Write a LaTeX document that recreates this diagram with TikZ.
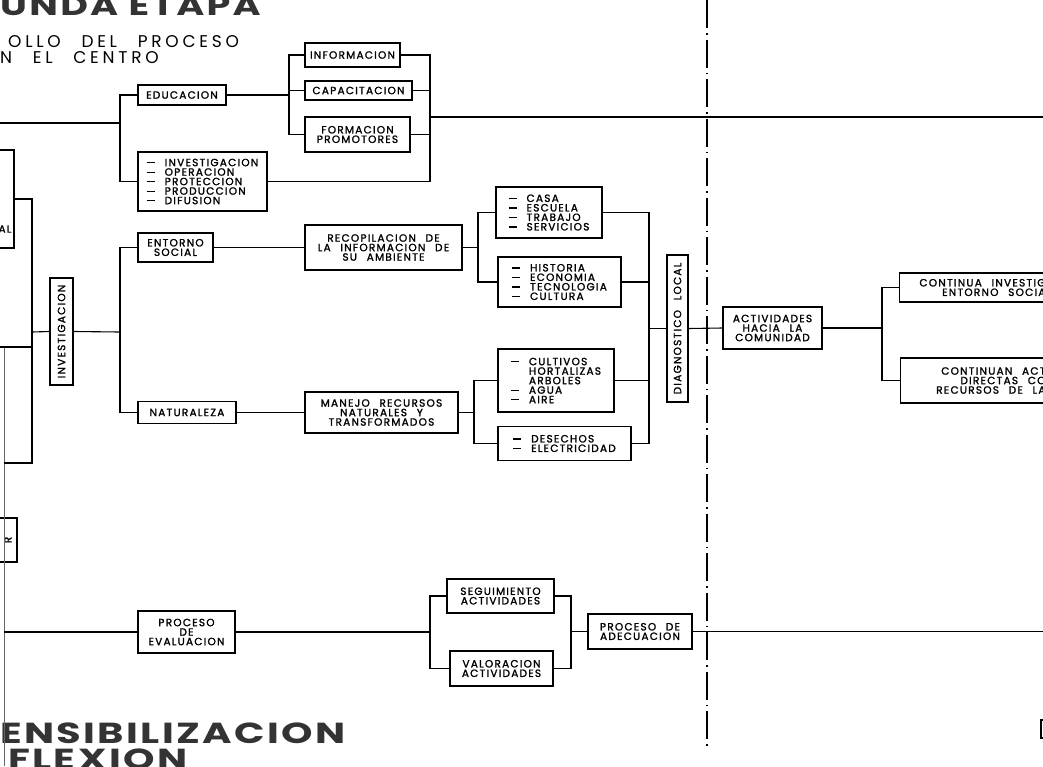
\documentclass[tikz,border=0pt]{standalone}
\usepackage{fontspec}
\usepackage{graphicx}
\setmainfont{Poppins}
\newfontfamily\cajafont{Poppins}[LetterSpace=12,WordSpace=2.4,FakeBold=1.6]
\newfontfamily\subfont{Poppins}[LetterSpace=22,WordSpace=2.5]
\newfontfamily\titfont{Poppins}[LetterSpace=6]
\usetikzlibrary{positioning}

\newcommand{\guion}{\makebox[18pt][l]{\rule[2.8pt]{8pt}{1.2pt}}}
\newcommand{\singuion}{\hspace*{18pt}}
\newcommand{\ancho}[1]{\scalebox{1.38}[1]{#1}}

\tikzset{
  caja/.style={draw, line width=1.1pt, inner sep=1pt, align=center,
               font=\cajafont\fontsize{10.5}{9.5}\selectfont},
  lista/.style={caja, align=left},
  conector/.style={line width=1.1pt},
  titulo/.style={inner sep=0pt, anchor=base west, text=black!80, text depth=0pt,
                 font=\titfont\bfseries\fontsize{29}{29}\selectfont},
  subtitulo/.style={inner sep=0pt, anchor=base west,
                    font=\subfont\fontsize{17}{17}\selectfont},
}

\begin{document}
\begin{tikzpicture}[x=1pt,y=-1pt]

\useasboundingbox (0,0) rectangle (1043,766);
\clip (0,0) rectangle (1043,766);

\node[titulo, font=\titfont\bfseries\fontsize{28}{28}\selectfont] (etapa) at (0,15) {\scalebox{1.36}[1]{UNDA ETAPA}};
\node[subtitulo] (sub1) at (8,47) {OLLO DEL PROCESO};
\node[subtitulo] (sub2) at (0,63) {N EL CENTRO};
\node[titulo] (sensib) at (0,743) {\ancho{ENSIBILIZACION}};
\node[titulo] (reflex) at (8,769) {\ancho{FLEXION}};

\node[caja, minimum width=60, minimum height=98] (cajaAL) at (-16,199) {};
\node[caja, draw=none, anchor=east] (textoAL) at (13,229) {AL};
\node[caja, minimum width=40, minimum height=44] (cajaR) at (-3,540) {};
\node[caja, draw=none, rotate=90] (textoR) at (8,540) {R};

\node[caja, rotate=90, minimum width=107, minimum height=23] (invest) at (61.5,331.5) {INVESTIGACION};
\node[caja, minimum width=88, minimum height=20] (educa) at (182,95) {EDUCACION};
\node[lista, minimum width=129, minimum height=59] (acciones) at (202.5,181.5)
  {\guion INVESTIGACION\\\guion OPERACION\\\guion PROTECCION\\\guion PRODUCCION\\\guion DIFUSION};
\node[caja, minimum width=95, minimum height=24] (info) at (352.5,55) {INFORMACION};
\node[caja, minimum width=107, minimum height=19] (capa) at (358.5,90.5) {CAPACITACION};
\node[caja, minimum width=105, minimum height=35] (forma) at (357.5,134.5) {FORMACION\\PROMOTORES};

\node[caja, minimum width=75, minimum height=29] (entorno) at (175.5,247.5) {ENTORNO\\SOCIAL};
\node[caja, minimum width=98, minimum height=22] (natur) at (187,412.5) {NATURALEZA};
\node[caja, minimum width=157, minimum height=45] (recop) at (383.5,247.5) {RECOPILACION DE\\LA INFORMACION DE\\SU AMBIENTE};
\node[caja, minimum width=153, minimum height=41] (manejo) at (381.5,412.5) {MANEJO RECURSOS\\NATURALES Y\\TRANSFORMADOS};

\node[lista, minimum width=106, minimum height=51] (casa) at (549,212.5)
  {\guion CASA\\\guion ESCUELA\\\guion TRABAJO\\\guion SERVICIOS};
\node[lista, minimum width=123, minimum height=50] (hist) at (559.5,282)
  {\guion HISTORIA\\\guion ECONOMIA\\\guion TECNOLOGIA\\\guion CULTURA};
\node[lista, minimum width=116, minimum height=63] (cult) at (556,380.5)
  {\guion CULTIVOS\\\singuion HORTALIZAS\\\singuion ARBOLES\\\guion AGUA\\\guion AIRE};
\node[lista, minimum width=133, minimum height=34] (deso) at (564.5,443.5)
  {\guion DESECHOS\\\guion ELECTRICIDAD};

\node[caja, rotate=90, minimum width=147, minimum height=21] (diag) at (677.5,328.5) {DIAGNOSTICO LOCAL};
\node[caja, minimum width=99, minimum height=42] (acti) at (772.5,328) {ACTIVIDADES\\HACIA LA\\COMUNIDAD};
\node[caja, anchor=west, minimum width=170, minimum height=29] (cont1) at (899,287.5) {};
\node[caja, draw=none, anchor=east, align=right] (textoC1) at (1047,287.5) {CONTINUA INVESTIG\\ENTORNO SOCIA};
\node[caja, anchor=west, minimum width=170, minimum height=45] (cont2) at (900,380.5) {};
\node[caja, draw=none, anchor=east, align=right] (textoC2) at (1047,380.5) {CONTINUAN ACT\\DIRECTAS CO\\RECURSOS DE LA};

\node[caja, minimum width=97, minimum height=42] (evalua) at (186.5,632) {PROCESO\\DE\\EVALUACION};
\node[caja, minimum width=107, minimum height=34] (segui) at (500.5,596) {SEGUIMIENTO\\ACTIVIDADES};
\node[caja, minimum width=103, minimum height=35] (valor) at (501.5,668.5) {VALORACION\\ACTIVIDADES};
\node[caja, minimum width=104, minimum height=35] (adecua) at (640,631.5) {PROCESO DE\\ADECUACION};

\coordinate (entradaA) at (0,123);
\coordinate (entradaB) at (0,347);
\coordinate (esquina) at (4,463);
\coordinate (lineaIni) at (4,347);
\coordinate (lineaFin) at (4,766);
\coordinate (llaveInv) at (32,332);
\coordinate (llaveInvD) at (120,332);
\coordinate (llaveEdu) at (120,123);
\coordinate (llaveInfo) at (289,95);
\coordinate (llaveB) at (430,117);
\coordinate (finB) at (1043,117);
\coordinate (llaveRec) at (478,247.5);
\coordinate (llaveMan) at (474,412.5);
\coordinate (llaveDiag) at (649,328.5);
\coordinate (llaveAct) at (882,328);
\coordinate (llaveEv) at (430,632);
\coordinate (llaveAde) at (571,631.5);
\coordinate (finAde) at (1043,631.5);
\coordinate (cortePie) at (707,748);
\coordinate (corteTope) at (707,0);

\draw[line width=1.2pt, dash pattern=on 28pt off 5pt on 1.5pt off 5pt] (corteTope) -- (cortePie);
\draw[line width=0.7pt, black!60] (lineaIni) -- (lineaFin);

\draw[conector] (cajaAL.east) -| (llaveInv);
\draw[conector] (esquina) -| (llaveInv);
\draw[conector] (entradaB) -- (entradaB -| llaveInv);
\draw[conector] (llaveInv) -- (invest.north);
\draw[conector] (invest.south) -- (llaveInvD);
\draw[conector] (entorno.west) -| (llaveInvD);
\draw[conector] (natur.west) -| (llaveInvD);

\draw[conector] (entradaA) -- (llaveEdu);
\draw[conector] (educa.west) -| (llaveEdu);
\draw[conector] (acciones.west) -| (llaveEdu);
\draw[conector] (educa.east) -- (llaveInfo);
\draw[conector] (info.west) -| (llaveInfo);
\draw[conector] (forma.west) -| (llaveInfo);
\draw[conector] (capa.west) -- (capa.west -| llaveInfo);
\draw[conector] (info.east) -| (llaveB);
\draw[conector] (acciones.east) -| (llaveB);
\draw[conector] (capa.east) -- (capa.east -| llaveB);
\draw[conector] (forma.east) -- (forma.east -| llaveB);
\draw[conector] (llaveB) -- (finB);

\draw[conector] (entorno.east) -- (recop.west);
\draw[conector] (natur.east) -- (manejo.west);
\draw[conector] (recop.east) -- (llaveRec);
\draw[conector] (casa.west) -| (llaveRec);
\draw[conector] (hist.west) -| (llaveRec);
\draw[conector] (manejo.east) -- (llaveMan);
\draw[conector] (cult.west) -| (llaveMan);
\draw[conector] (deso.west) -| (llaveMan);

\draw[conector] (casa.east) -| (llaveDiag);
\draw[conector] (deso.east) -| (llaveDiag);
\draw[conector] (hist.east) -- (hist.east -| llaveDiag);
\draw[conector] (cult.east) -- (cult.east -| llaveDiag);
\draw[conector] (llaveDiag) -- (diag.north);
\draw[conector] (diag.south) -- (acti.west);
\draw[conector] (acti.east) -- (llaveAct);
\draw[conector] (cont1.west) -| (llaveAct);
\draw[conector] (cont2.west) -| (llaveAct);

\draw[conector] (lineaIni |- evalua.west) -- (evalua.west);
\draw[conector] (evalua.east) -- (llaveEv);
\draw[conector] (segui.west) -| (llaveEv);
\draw[conector] (valor.west) -| (llaveEv);
\draw[conector] (segui.east) -| (llaveAde);
\draw[conector] (valor.east) -| (llaveAde);
\draw[conector] (llaveAde) -- (adecua.west);
\draw[conector] (adecua.east) -- (finAde);

\draw[line width=2pt] (1044,720) -| (1041,738) -- (1044,738);

\end{tikzpicture}
\end{document}
